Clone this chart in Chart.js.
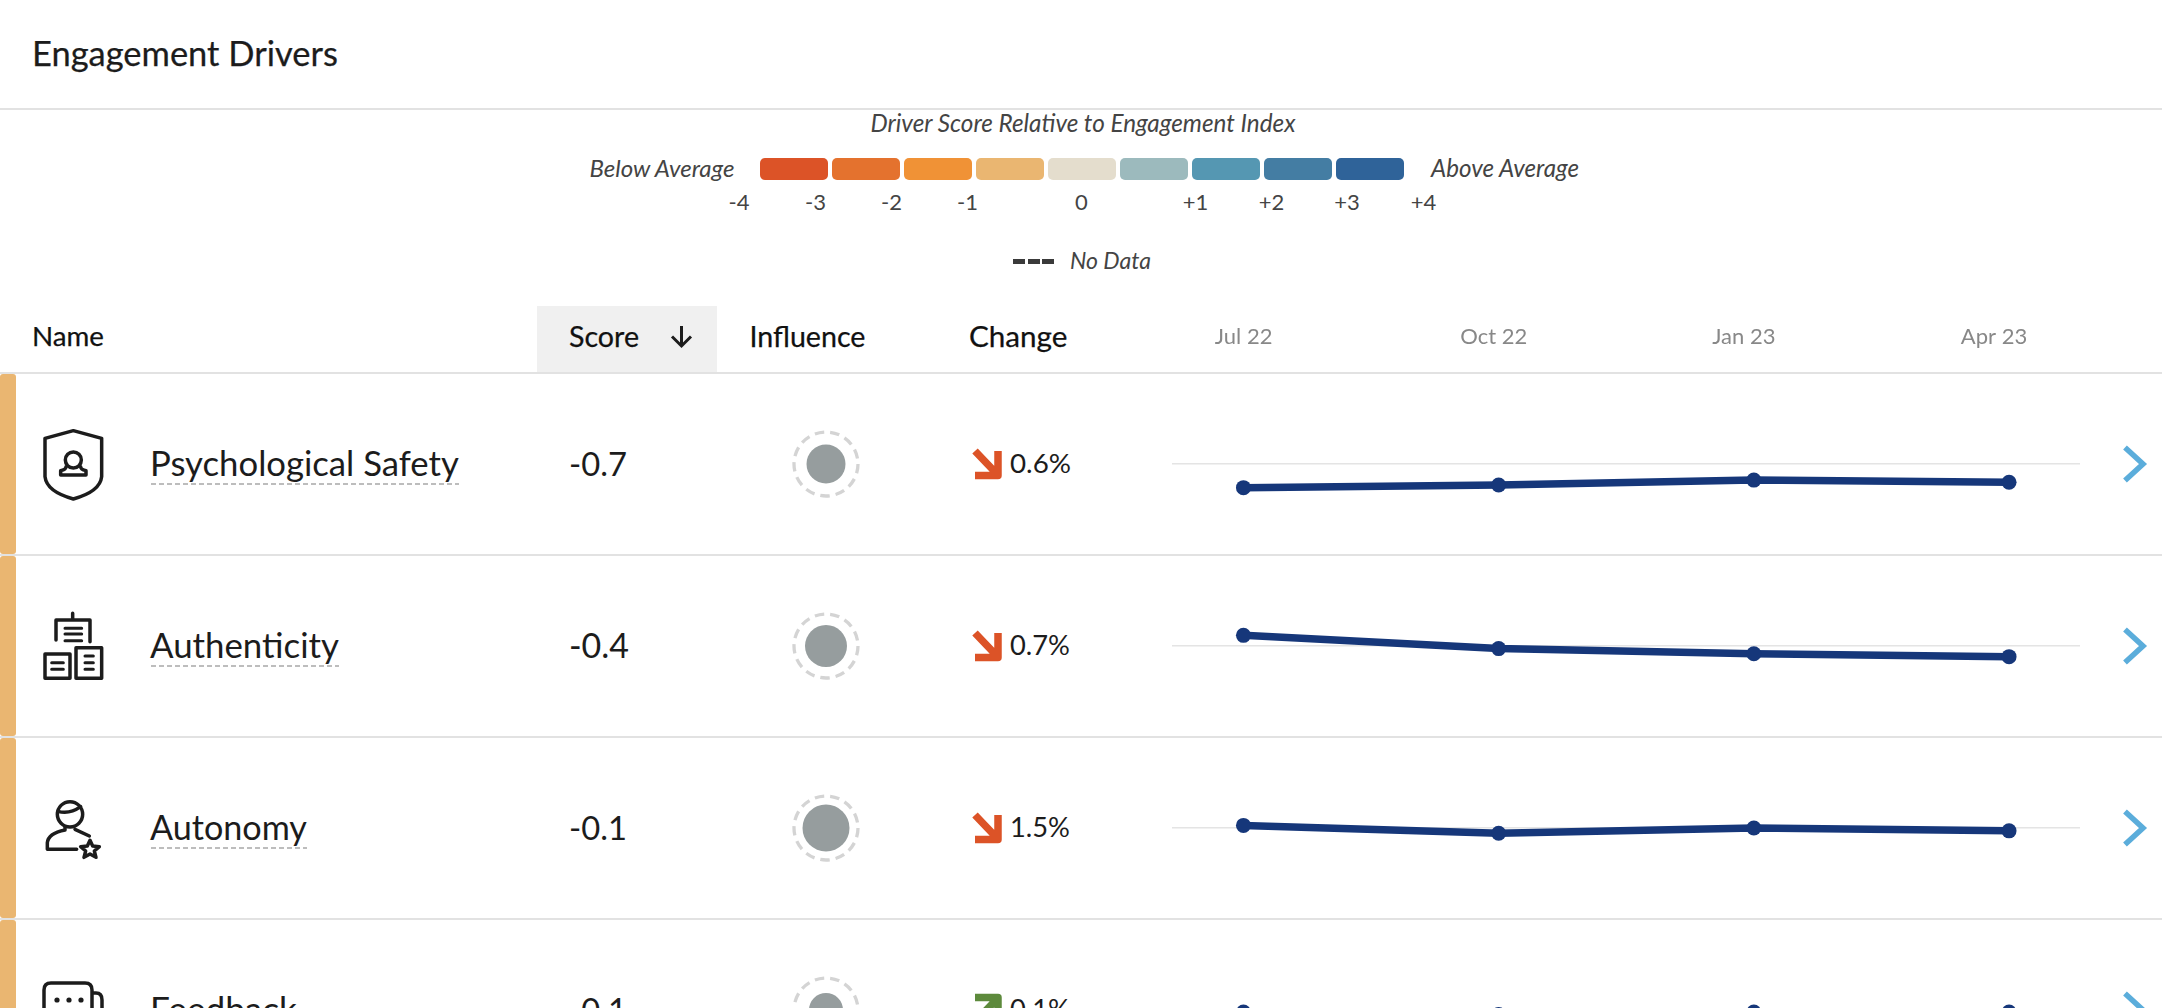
<!DOCTYPE html>
<html><head><meta charset="utf-8">
<script src="https://cdn.jsdelivr.net/npm/chart.js@4"></script>
<style>
html,body{margin:0;padding:0;background:#fff;width:2162px;height:1008px;overflow:hidden;font-family:Lato,sans-serif}
#page{position:relative;width:2162px;height:1008px;overflow:hidden;background:#fff}
.a{position:absolute}
.t{position:absolute;white-space:nowrap;transform:translateY(-50%);line-height:1}
canvas{position:absolute}
svg{position:absolute;overflow:visible}
</style></head><body><div id="page"></div>
<script>
// ---- data ----
const months = ['Jul 22','Oct 22','Jan 23','Apr 23'];
const rowNames = ['Psychological Safety','Authenticity','Autonomy','Feedback'];
const scores = ['-0.7','-0.4','-0.1','-0.1'];
const changes = ['0.6%','0.7%','1.5%','0.1%'];
const changeUp = [false,false,false,true];
const influence = [3.9,4.2,4.7,3.4];
const psychologicalSafety = [-0.91,-0.81,-0.62,-0.70];
const authenticity = [0.41,-0.10,-0.30,-0.41];
const autonomy = [0.10,-0.20,0.00,-0.11];
const feedback = [-0.08,-0.17,-0.08,-0.08];
const legendColors = ['#DC5327','#E4722E','#F09236','#EAB671','#E4DDCD','#9CBABD','#5597B2','#447DA3','#2F6399'];
const legendTicks = ['-4','-3','-2','-1','0','+1','+2','+3','+4'];
const seriesByRow = [psychologicalSafety,authenticity,autonomy,feedback];

// ---- helpers ----
const page = document.getElementById('page');
const fits = [];
function text(s,x,y,size,color,w,opt={}){
  const d=document.createElement('div');d.className='t';d.textContent=s;
  d.style.cssText+=`left:${x}px;top:${y}px;font-size:${size}px;color:${color};`+(opt.italic?'font-style:italic;':'')+(opt.stroke?`-webkit-text-stroke:${opt.stroke}px ${color};`:'')+(opt.center?'transform:translate(-50%,-50%);':'');
  page.appendChild(d);
  if(w){fits.push([d,w,size]);}
  return d;
}
function box(x,y,w,h,bg,extra=''){
  const d=document.createElement('div');d.className='a';
  d.style.cssText=`left:${x}px;top:${y}px;width:${w}px;height:${h}px;background:${bg};${extra}`;
  page.appendChild(d);return d;
}
function svg(x,y,w,h,vb,inner){
  const s=document.createElementNS('http://www.w3.org/2000/svg','svg');
  s.setAttribute('width',w);s.setAttribute('height',h);s.setAttribute('viewBox',vb);
  s.style.left=x+'px';s.style.top=y+'px';
  s.innerHTML=inner;page.appendChild(s);return s;
}
function canvas(x,y,w,h){
  const c=document.createElement('canvas');c.width=w;c.height=h;
  c.style.cssText=`left:${x}px;top:${y}px;width:${w}px;height:${h}px`;
  page.appendChild(c);return c;
}

// ---- page header ----
text('Engagement Drivers',32,52.5,29,'#1c1c1c',306,{stroke:0.25});
box(0,108,2162,2,'#e2e2e2');

// ---- legend ----
text('Driver Score Relative to Engagement Index',870.5,122.5,19,'#444',425,{italic:true});
text('Below Average',589.5,168,19,'#444',145,{italic:true});
text('Above Average',1431,168,19,'#444',148,{italic:true});
legendColors.forEach((c,i)=>box(760+72*i,158,68,22,c,'border-radius:5px'));
[739,815.5,891.5,967.5,1081.5,1195.5,1271.5,1347,1423.5].forEach((x,i)=>text(legendTicks[i],x,201.5,22,'#444',0,{center:true}));
[1013,1027.5,1042].forEach(x=>box(x,258.5,12,5.5,'#3a3a3a'));
text('No Data',1070,260.5,19,'#444',81,{italic:true});

// ---- table header ----
box(537,306,180,66,'#f0f0f0');
text('Name',32,336,24,'#111',72,{stroke:0.25});
text('Score',569,336,24,'#111',70,{stroke:0.25});
text('Influence',749.5,336,24,'#111',116,{stroke:0.25});
text('Change',969,336,24,'#111',98.5,{stroke:0.25});
svg(670,325,23,22,'0 0 23 22','<path d="M11.5 1V21M2 11.5L11.5 21L21 11.5" fill="none" stroke="#1c1c1c" stroke-width="3"/>');
box(0,372,2162,2,'#e2e2e2');

// ---- rows ----
const rowTop=[374,556,738,920];
const icons=[
 `<path d="M130 32L45 55V170Q50 215 130 237Q210 215 215 170V55Z"/><circle cx="130" cy="120" r="24"/><path d="M108 140Q108 148 92 152V165H168V152Q152 148 152 140"/>`,
 `<path d="M128 40V58M78 120V60H180V125"/><path d="M105 85H155M105 102H155M105 122H155" stroke-width="9"/><rect x="45" y="162" width="75" height="73"/><path d="M65 188H100M65 208H100" stroke-width="9"/><rect x="138" y="143" width="77" height="92"/><path d="M165 168H190M165 188H190M165 208H190" stroke-width="9"/>`,
 `<circle cx="120" cy="85" r="38"/><path d="M84 76Q118 86 152 62"/><path d="M105 122V132Q55 142 52 170V190H140M135 130L178 150"/><path d="M180 163L188 180L208 182L193 195L198 214L180 204L162 214L167 195L152 182L172 180Z"/>`,
 `<path d="M44 1040V990Q44 983 51 983H85Q92 983 92 990V1040"/><path d="M92 993H96Q102 993 102 1000V1040"/>`
];
rowNames.forEach((name,i)=>{
  const top=rowTop[i], cy=464+182*i;
  box(0,top,16,180,'#EAB671','border-radius:3px');
  if(i<3) box(0,top+180,2162,2,'#e2e2e2');
  if(i<3) svg(30,cy-(i==0?44:(i==1?46:42)),90,90,'0 0 270 270',`<g fill="none" stroke="#1c1c1c" stroke-width="10.5" stroke-linejoin="round" stroke-linecap="round">${icons[i]}</g>`);
  else {
    svg(0,0,2162,1008,'0 0 2162 1008',`<g fill="none" stroke="#1c1c1c" stroke-width="3.5" stroke-linejoin="round">${icons[3]}</g><g fill="#1c1c1c"><circle cx="57" cy="1000" r="2.6"/><circle cx="69" cy="1000" r="2.6"/><circle cx="81" cy="1000" r="2.6"/></g>`);
  }
  const widths=[308,188,156,146];
  text(name,150,cy-1,30,'#1c1c1c',widths[i]+1);
  svg(151,cy+19,widths[i],3,`0 0 ${widths[i]} 3`,`<line x1="0" y1="1" x2="${widths[i]}" y2="1" stroke="#bdbdbd" stroke-width="2" stroke-dasharray="5 3"/>`);
  text(scores[i],569,cy,31,'#1c1c1c',[58,60,58,58][i]);
  svg(793,cy-33,66,66,'0 0 66 66','<circle cx="33" cy="33" r="32" fill="none" stroke="#d4d4d4" stroke-width="3.3" stroke-dasharray="9.5 5.97"/>');
  const col=changeUp[i]?'#5D8A3C':'#DC5327';
  const ty=y=>changeUp[i]?cy-(y-cy)-1:y;
  svg(0,0,2162,1008,'0 0 2162 1008',`<path d="M${975} ${ty(cy-13)}L${996} ${ty(cy+9)}M${998} ${ty(cy-13)}V${ty(cy+11.5)}H${975}" fill="none" stroke="${col}" stroke-width="7.5" stroke-linejoin="round"/>`);
  text(changes[i],1010,cy-1,26,'#1c1c1c',[61,60,60,60][i]);
  svg(2122,cy-18,24,36,'0 0 24 36','<path d="M3 1.5L21 18L3 34.5" fill="none" stroke="#5BADDB" stroke-width="5.5"/>');
});

// ---- charts ----
// shared axis of months
new Chart(canvas(1172,328,908,44),{
  type:'line',
  data:{labels:months,datasets:[{data:[],borderWidth:0}]},
  options:{responsive:false,animation:false,events:[],
    layout:{padding:{left:71.6,right:86,top:0,bottom:0},autoPadding:false},
    plugins:{legend:{display:false},tooltip:{enabled:false}},
    scales:{
      x:{position:'top',offset:false,grid:{display:false,drawTicks:false},border:{display:false},
         ticks:{color:'#888',font:{family:'Lato',size:22},padding:0,maxRotation:0,autoSkip:false}},
      y:{display:false}
    }}
});
// sparkline per row
seriesByRow.forEach((vals,i)=>{
  new Chart(canvas(1172,373+182*i,908,182),{
    type:'line',
    data:{datasets:[{data:vals.map((v,k)=>({x:k,y:v})),borderColor:'#16377A',backgroundColor:'#16377A',
      borderWidth:7.5,pointRadius:7.5,pointBorderWidth:0,pointBackgroundColor:'#16377A',tension:0,clip:false}]},
    options:{responsive:false,animation:false,events:[],
      layout:{padding:0,autoPadding:false},
      plugins:{legend:{display:false},tooltip:{enabled:false}},
      scales:{
        x:{type:'linear',min:-0.28,max:3.278,display:false},
        y:{type:'linear',min:-3.5,max:3.5,
           afterBuildTicks:a=>{a.ticks=[{value:0}]},
           grid:{color:'#e4e4e4',lineWidth:1.5,drawTicks:false},border:{display:false},ticks:{display:false}}
      }}
  });
});
// influence bubbles
new Chart(canvas(760,373,132,728),{
  type:'bubble',
  data:{datasets:[{data:influence.map((v,i)=>({x:0,y:i+0.5,r:v*5})),backgroundColor:'#969D9E',borderWidth:0,clip:false}]},
  options:{responsive:false,animation:false,events:[],layout:{padding:0,autoPadding:false},
    plugins:{legend:{display:false},tooltip:{enabled:false}},
    scales:{x:{min:-1,max:1,display:false},y:{min:0,max:4,reverse:true,display:false}}}
});

// fit text widths by font size
fits.forEach(([d,w,s])=>{
  const m=d.getBoundingClientRect().width;
  d.style.fontSize=(s*w/m)+'px';
});
</script></body></html>
